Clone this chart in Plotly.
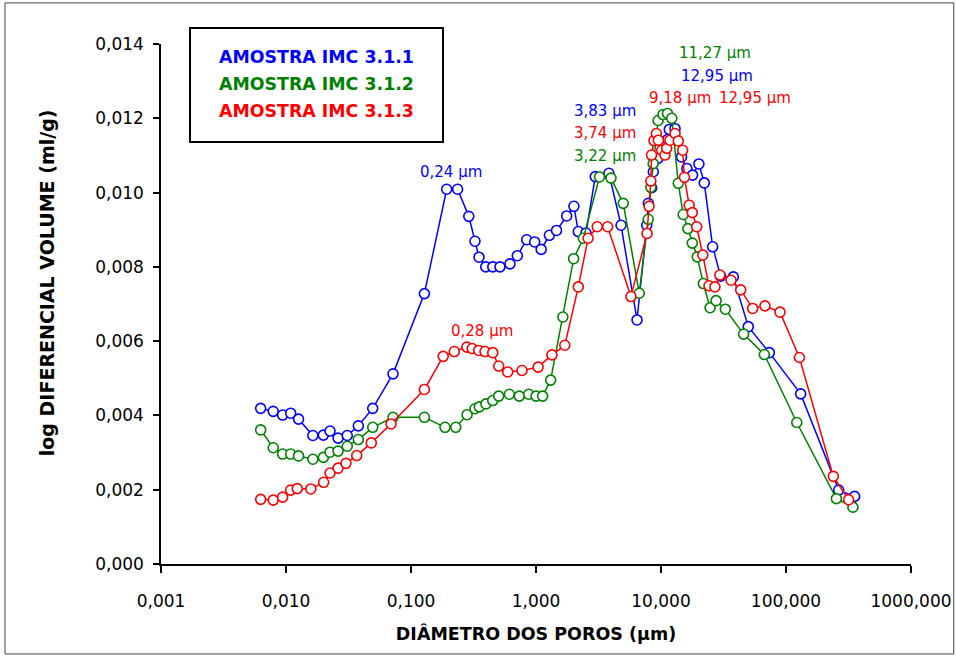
import math
import plotly.graph_objects as go

# ---------------- data ----------------
blue_x = [0.00627, 0.0079, 0.0094, 0.0109, 0.0126, 0.0164, 0.0199, 0.0225, 0.0261, 0.0309,
          0.0379, 0.0494, 0.0718, 0.128, 0.193, 0.236, 0.290, 0.325, 0.350, 0.396,
          0.451, 0.515, 0.619, 0.709, 0.843, 0.976, 1.10, 1.28, 1.46, 1.76,
          2.01, 2.18, 2.51, 2.98, 3.83, 4.79, 6.43, 7.69, 7.92, 8.43,
          8.68, 9.45, 11.3, 11.65, 12.95, 14.6, 16.1, 17.9, 20.1, 22.2,
          25.9, 30.0, 37.9, 49.9, 73.5, 131, 264, 354]
blue_y = [0.00419, 0.00411, 0.00401, 0.00406, 0.00390, 0.00346, 0.00347, 0.00358, 0.00339, 0.00346,
          0.00372, 0.00419, 0.00512, 0.00728, 0.01009, 0.01009, 0.00936, 0.00869, 0.00826, 0.00800,
          0.00800, 0.00800, 0.00808, 0.00830, 0.00873, 0.00867, 0.00847, 0.00885, 0.00898, 0.00937,
          0.00963, 0.00895, 0.00891, 0.01043, 0.01052, 0.00912, 0.00657, 0.00912, 0.00971, 0.01013,
          0.01056, 0.01092, 0.01143, 0.01170, 0.01172, 0.01096, 0.01065, 0.01047, 0.01077, 0.01026,
          0.00854, 0.00775, 0.00773, 0.00639, 0.00569, 0.00458, 0.00199, 0.00182]

green_x = [0.00627, 0.0079, 0.0094, 0.0109, 0.0126, 0.0164, 0.0199, 0.0225, 0.0261, 0.0309,
           0.0379, 0.0494, 0.0718, 0.128, 0.187, 0.228, 0.281, 0.325, 0.352, 0.398,
           0.451, 0.503, 0.612, 0.735, 0.874, 1.00, 1.13, 1.31, 1.64, 2.00,
           2.39, 3.22, 3.98, 4.99, 6.70, 7.91, 8.29, 8.66, 9.48, 10.38,
           11.27, 12.2, 13.75, 15.05, 16.4, 17.8, 19.5, 21.8, 24.7, 27.6,
           32.7, 45.8, 67.1, 122, 253, 343]
green_y = [0.00361, 0.00313, 0.00296, 0.00296, 0.00291, 0.00282, 0.00287, 0.00301, 0.00304, 0.00317,
           0.00335, 0.00368, 0.00395, 0.00395, 0.00368, 0.00368, 0.00402, 0.00418, 0.00423, 0.00431,
           0.00440, 0.00452, 0.00457, 0.00452, 0.00457, 0.00452, 0.00452, 0.00495, 0.00665, 0.00822,
           0.00877, 0.01042, 0.01039, 0.00971, 0.00729, 0.00928, 0.01014, 0.01078, 0.01194, 0.01210,
           0.01213, 0.01200, 0.01025, 0.00941, 0.00903, 0.00864, 0.00827, 0.00755, 0.00690, 0.00709,
           0.00686, 0.00619, 0.00564, 0.00381, 0.00176, 0.00153]

red_x = [0.00627, 0.0079, 0.0094, 0.0109, 0.0123, 0.0158, 0.0200, 0.0225, 0.0261, 0.0302,
         0.0368, 0.0481, 0.0692, 0.128, 0.181, 0.222, 0.28, 0.309, 0.348, 0.391,
         0.451, 0.503, 0.594, 0.773, 1.04, 1.34, 1.70, 2.18, 2.61, 3.09,
         3.74, 5.75, 7.73, 8.02, 8.29, 8.40, 8.79, 9.18, 9.52, 10.13,
         10.76, 11.1, 11.8, 12.95, 13.75, 14.9, 15.4, 16.8, 17.8, 19.3,
         21.6, 24.2, 27.0, 29.6, 36.3, 43.4, 54.1, 67.9, 89.5, 128,
         239, 317]
red_y = [0.00174, 0.00172, 0.00180, 0.00199, 0.00203, 0.00202, 0.00220, 0.00245, 0.00258, 0.00271,
         0.00292, 0.00326, 0.00377, 0.00470, 0.00559, 0.00572, 0.00584, 0.00580, 0.00575, 0.00572,
         0.00569, 0.00533, 0.00517, 0.00521, 0.00530, 0.00563, 0.00589, 0.00746, 0.00877, 0.00908,
         0.00908, 0.00720, 0.00890, 0.00963, 0.01031, 0.01101, 0.01140, 0.01159, 0.01141, 0.01114,
         0.01101, 0.01119, 0.01141, 0.01159, 0.01139, 0.01114, 0.01041, 0.00966, 0.00946, 0.00908,
         0.00832, 0.00749, 0.00746, 0.00778, 0.00764, 0.00738, 0.00688, 0.00695, 0.00678, 0.00556,
         0.00236, 0.00173]

series_names = ["AMOSTRA IMC 3.1.1", "AMOSTRA IMC 3.1.2", "AMOSTRA IMC 3.1.3"]
series_colors = ["#0000FF", "#008000", "#FF0000"]

x_tickvals = [0.001, 0.01, 0.1, 1, 10, 100, 1000]
x_ticktext = ["0,001", "0,010", "0,100", "1,000", "10,000", "100,000", "1000,000"]
y_tickvals = [0, 0.002, 0.004, 0.006, 0.008, 0.010, 0.012, 0.014]
y_ticktext = ["0,000", "0,002", "0,004", "0,006", "0,008", "0,010", "0,012", "0,014"]

# peak labels: (text, x value, y value, series index)
peak_labels = [
    ("0,24 µm", 0.209, 0.01055, 0),
    ("0,28 µm", 0.370, 0.00627, 2),
    ("3,83 µm", 3.55, 0.01219, 0),
    ("3,74 µm", 3.55, 0.01160, 2),
    ("3,22 µm", 3.55, 0.01098, 1),
    ("11,27 µm", 27.0, 0.01375, 1),
    ("12,95 µm", 28.1, 0.01314, 0),
    ("9,18 µm", 14.2, 0.01254, 2),
    ("12,95 µm", 56.5, 0.01254, 2),
]

FONT = "DejaVu Sans"

fig = go.Figure()
for xs, ys, name, col in zip([blue_x, green_x, red_x], [blue_y, green_y, red_y],
                             series_names, series_colors):
    fig.add_trace(go.Scatter(
        x=xs, y=ys, name=name, mode="lines+markers",
        line=dict(color=col, width=1.5),
        marker=dict(symbol="circle", size=10, color="white", line=dict(width=1.6, color=col)),
        showlegend=False, cliponaxis=False,
    ))

annotations = []
for text, xv, yv, si in peak_labels:
    annotations.append(dict(
        x=math.log10(xv), y=yv, xref="x", yref="y", text=text, showarrow=False,
        xanchor="center", yanchor="middle",
        font=dict(family=FONT, size=15, color=series_colors[si]),
    ))

# legend box text
legend_y = [0.975, 0.923, 0.871]
for name, col, ly in zip(series_names, series_colors, legend_y):
    annotations.append(dict(
        x=0.0747, y=ly, xref="paper", yref="paper", text="<b>" + name + "</b>",
        showarrow=False, xanchor="left", yanchor="middle",
        font=dict(family=FONT, size=17.4, color=col),
    ))

# y-axis title (as rotated text so its vertical centre can match)
annotations.append(dict(
    x=-0.152, y=0.540, xref="paper", yref="paper",
    text="<b>log DIFERENCIAL VOLUME (ml/g)</b>", textangle=-90, showarrow=False,
    xanchor="center", yanchor="middle",
    font=dict(family=FONT, size=19, color="black"),
))

shapes = [
    dict(type="rect", xref="paper", yref="paper", x0=0.0387, x1=0.376, y0=0.8115, y1=1.0308,
         line=dict(color="black", width=2), fillcolor="white", layer="below"),
    dict(type="rect", xref="paper", yref="paper", x0=-0.208, x1=1.057, y0=-0.173, y1=1.079,
         line=dict(color="#444444", width=1)),
]

fig.update_layout(
    width=956, height=657,
    margin=dict(l=161, r=45, t=44, b=93),
    paper_bgcolor="white", plot_bgcolor="white",
    font=dict(family=FONT, size=17, color="black"),
    annotations=annotations, shapes=shapes,
    xaxis=dict(
        type="log", range=[-3, 3], automargin=False,
        tickvals=x_tickvals, ticktext=x_ticktext,
        ticks="outside", ticklen=7, tickwidth=1.5, tickcolor="black",
        showline=True, linecolor="black", linewidth=1.5,
        showgrid=False, zeroline=False,
        tickfont=dict(family=FONT, size=17, color="black"),
        ticklabelstandoff=14,
        title=dict(text="<b>DIÂMETRO DOS POROS (µm)</b>", standoff=18,
                   font=dict(family=FONT, size=17.5, color="black")),
    ),
    yaxis=dict(
        range=[0, 0.014], automargin=False,
        tickvals=y_tickvals, ticktext=y_ticktext,
        ticks="outside", ticklen=6, tickwidth=1.5, tickcolor="black",
        showline=True, linecolor="black", linewidth=1.5,
        showgrid=False, zeroline=False,
        tickfont=dict(family=FONT, size=17, color="black"),
        ticklabelstandoff=6,
    ),
)

fig.write_html("out.html")
